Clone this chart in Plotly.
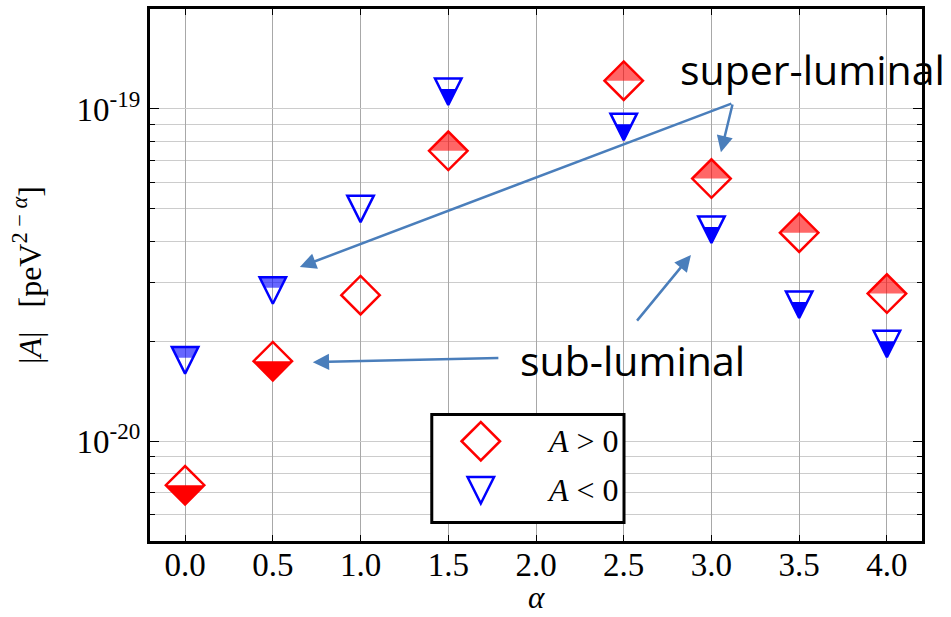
import math
import plotly.graph_objects as go

# ---- data -------------------------------------------------------------
alpha = [0.0, 0.5, 1.0, 1.5, 2.5, 3.0, 3.5, 4.0]
A_pos = [7.36e-21, 1.74e-20, 2.75e-20, 7.48e-20, 1.217e-19, 6.17e-20, 4.24e-20, 2.78e-20]
A_neg = [1.75e-20, 2.84e-20, 5.00e-20, 1.127e-19, 8.83e-20, 4.33e-20, 2.575e-20, 1.96e-20]
# propagation regime of each point: "super" / "sub" luminal, "" = undetermined
regime_pos = ["sub", "sub", "", "super", "super", "super", "super", "super"]
regime_neg = ["super", "super", "", "sub", "sub", "sub", "sub", "sub"]

x_tickvals = [0.0, 0.5, 1.0, 1.5, 2.0, 2.5, 3.0, 3.5, 4.0]
x_ticktext = ["0.0", "0.5", "1.0", "1.5", "2.0", "2.5", "3.0", "3.5", "4.0"]
y_tickvals = [1e-20, 1e-19]
y_ticktext = ["10<sup>-20</sup>", "10<sup>-19</sup>"]
y_minor = [6e-21, 7e-21, 8e-21, 9e-21, 2e-20, 3e-20, 4e-20, 5e-20, 6e-20, 7e-20, 8e-20, 9e-20]

# ---- style ------------------------------------------------------------
RED, BLUE = "#ff0000", "#0000ff"
RED_SEMI, BLUE_SEMI = "rgba(255,0,0,0.6)", "rgba(0,0,255,0.6)"
ARROW = "#4a7ebb"
SERIF = "Liberation Serif"
SANS = "Open Sans"
DIAMOND_SIZE = 29.6          # plotly diamond half-extent = 0.65 * size
TRI_SIZE = 26.5              # arrow-down symbol: half-width = size/2
LW = 2.5
D = 0.65 * DIAMOND_SIZE      # diamond half-extent in px
R = TRI_SIZE / 2             # triangle half-extent in px


def fmt(pts):
    return "M" + " L".join(f"{x:.2f},{y:.2f}" for x, y in pts) + " Z"


# pixel paths (y up) of the half fills
DIAMOND_TOP = fmt([(-D, 0), (0, D), (D, 0)])
DIAMOND_BOT = fmt([(-D, 0), (0, -D), (D, 0)])
TRI_TOP = fmt([(-R, R), (R, R), (0.6 * R, 0.2 * R), (-0.6 * R, 0.2 * R)])
TRI_BOT = fmt([(-0.6 * R, 0.2 * R), (0.6 * R, 0.2 * R), (0, -R)])
DIAMOND_OUT = fmt([(-D, 0), (0, D), (D, 0), (0, -D)])
TRI_OUT = fmt([(-R, R), (R, R), (0, -R)])

fig = go.Figure()

fig.add_trace(go.Scatter(
    x=alpha, y=A_pos, mode="markers", name="A > 0", showlegend=False,
    marker=dict(symbol="diamond-open", size=DIAMOND_SIZE, color=RED,
                line=dict(width=LW, color=RED)),
))
fig.add_trace(go.Scatter(
    x=alpha, y=A_neg, mode="markers", name="A < 0", showlegend=False,
    marker=dict(symbol="arrow-down-open", size=TRI_SIZE, color=BLUE,
                standoff=R, line=dict(width=LW, color=BLUE)),
))

shapes = []


def half_fill(x, y, path, color):
    shapes.append(dict(
        type="path", xref="x", yref="y", xsizemode="pixel", ysizemode="pixel",
        xanchor=x, yanchor=y, path=path, fillcolor=color,
        line=dict(width=0), layer="above",
    ))


for a, v, r in zip(alpha, A_pos, regime_pos):
    if r == "super":
        half_fill(a, v, DIAMOND_TOP, RED_SEMI)
    elif r == "sub":
        half_fill(a, v, DIAMOND_BOT, RED)
for a, v, r in zip(alpha, A_neg, regime_neg):
    if r == "super":
        half_fill(a, v, TRI_TOP, BLUE_SEMI)
    elif r == "sub":
        half_fill(a, v, TRI_BOT, BLUE)

# legend box with its two glyphs
shapes.append(dict(type="rect", xref="paper", yref="paper",
                   x0=0.365, x1=0.614, y0=0.035, y1=0.238,
                   line=dict(color="black", width=3), fillcolor="white", layer="above"))
for yy, path, col in [(0.1875, DIAMOND_OUT, RED), (0.0954, TRI_OUT, BLUE)]:
    shapes.append(dict(type="path", xref="paper", yref="paper", xsizemode="pixel",
                       ysizemode="pixel", xanchor=0.4285, yanchor=yy, path=path,
                       fillcolor="rgba(0,0,0,0)", line=dict(color=col, width=LW),
                       layer="above"))

annotations = [
    dict(x=0.5115, y=0.1875, xref="paper", yref="paper", xanchor="left", yanchor="middle",
         text="<i>A</i> &gt; 0", showarrow=False, font=dict(family=SERIF, size=32, color="black")),
    dict(x=0.5115, y=0.0954, xref="paper", yref="paper", xanchor="left", yanchor="middle",
         text="<i>A</i> &lt; 0", showarrow=False, font=dict(family=SERIF, size=32, color="black")),
    dict(x=0.6838, y=0.888, xref="paper", yref="paper", xanchor="left", yanchor="middle",
         text="super-luminal", showarrow=False, font=dict(family=SANS, size=41, color="black")),
    dict(x=0.4765, y=0.3399, xref="paper", yref="paper", xanchor="left", yanchor="middle",
         text="sub-luminal", showarrow=False, font=dict(family=SANS, size=41, color="black")),
    # x-axis title
    dict(x=0.5, y=-0.1429, xref="paper", yref="paper", xanchor="center", yanchor="bottom",
         text="<i>α</i>", showarrow=False, font=dict(family=SERIF, size=31, color="black")),
]

# pointer arrows (head, tail) in axis coordinates (y in log10)
arrows = [
    ((0.654, -19.476), (3.122, -18.982)),
    ((3.054, -19.130), (3.122, -18.982)),
    ((2.883, -19.440), (2.569, -19.642)),
    ((0.728, -19.7625), (1.794, -19.750)),
]
for (hx, hy), (tx, ty) in arrows:
    annotations.append(dict(
        x=hx, y=hy, ax=tx, ay=ty, xref="x", yref="y", axref="x", ayref="y",
        text="", showarrow=True, arrowhead=2, arrowsize=1.3, arrowwidth=2.5,
        arrowcolor=ARROW, standoff=0, startstandoff=0,
    ))

fig.update_layout(
    width=951, height=617,
    margin=dict(l=150, r=29, t=9, b=76),
    paper_bgcolor="white", plot_bgcolor="white",
    shapes=shapes, annotations=annotations,
    font=dict(family=SERIF, color="black"),
)

fig.update_xaxes(
    range=[-0.2, 4.2], tickmode="array", tickvals=x_tickvals, ticktext=x_ticktext,
    showgrid=True, gridcolor="#a8a8a8", gridwidth=1, zeroline=False,
    showline=True, linecolor="black", linewidth=3, mirror="ticks",
    ticks="inside", ticklen=6, tickcolor="black", tickwidth=1,
    tickfont=dict(family=SERIF, size=33, color="black"), automargin=False,
    ticklabelstandoff=-8,
)
fig.update_yaxes(
    type="log", range=[math.log10(5e-21), math.log10(2e-19)],
    tickmode="array", tickvals=y_tickvals, ticktext=y_ticktext,
    showgrid=True, gridcolor="#cccccc", gridwidth=1, zeroline=False,
    showline=True, linecolor="black", linewidth=3, mirror="ticks",
    ticks="inside", ticklen=9, tickcolor="black", tickwidth=1,
    tickfont=dict(family=SERIF, size=33, color="black"), automargin=False,
    minor=dict(tickmode="array", tickvals=y_minor, ticks="inside", ticklen=5,
               tickcolor="black", showgrid=True, gridcolor="#cccccc", gridwidth=1),
    title=dict(text="|<i>A</i>|   [peV<sup>2 − <i>α</i></sup>]",
               font=dict(family=SERIF, size=32, color="black"), standoff=26),
)

fig.write_html("out.html")
